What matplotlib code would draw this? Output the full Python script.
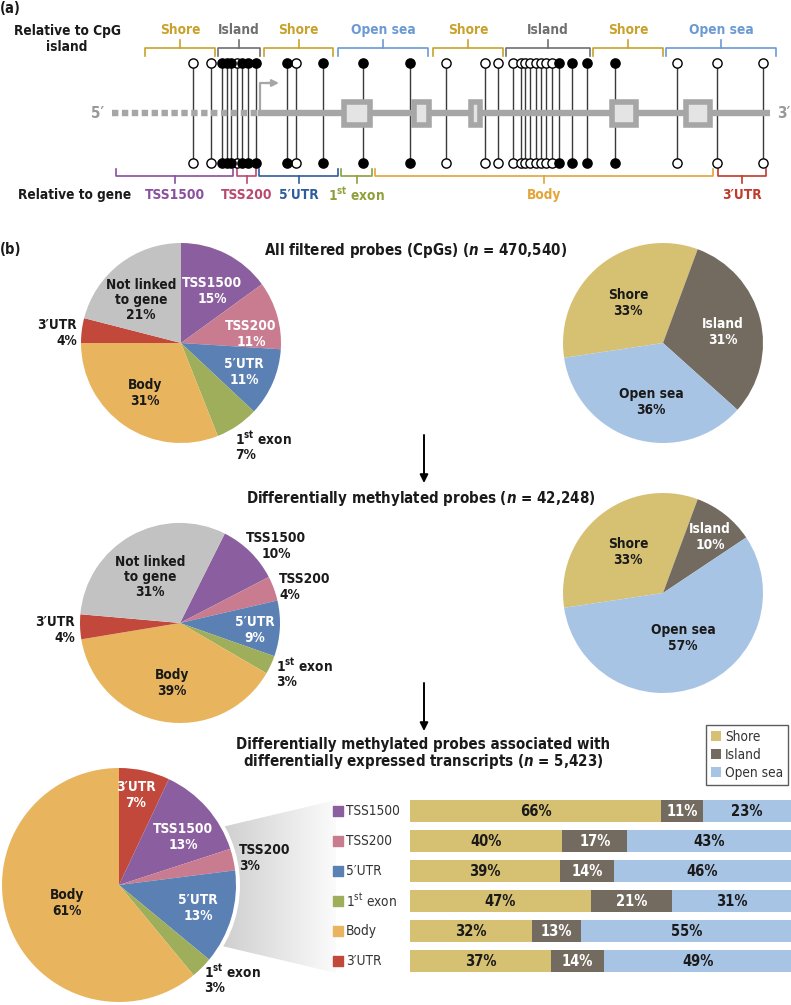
import matplotlib
matplotlib.use("Agg")
import matplotlib.pyplot as plt
import matplotlib.transforms as mtransforms
from matplotlib import font_manager
from matplotlib.patches import Rectangle, Polygon, Circle
import numpy as np

# pick a condensed sans if one is installed
fonts = font_manager.fontManager.ttflist
names = {f.name for f in fonts}
STRETCH = "normal"
if "Liberation Sans Narrow" in names:
    BASE = "Liberation Sans Narrow"
elif any(f.name == "DejaVu Sans" and f.stretch == "condensed" for f in fonts):
    BASE = "DejaVu Sans"
    STRETCH = "condensed"
elif "Roboto Condensed" in names:
    BASE = "Roboto Condensed"
else:
    BASE = "Liberation Sans"
SCALE = 1.0 if (BASE != "Liberation Sans") else 0.9

FONT = [BASE, "DejaVu Sans"]
plt.rcParams['font.family'] = FONT
plt.rcParams['font.weight'] = 'bold'
plt.rcParams['font.stretch'] = STRETCH
plt.rcParams['mathtext.fontset'] = 'custom'
plt.rcParams['mathtext.rm'] = f'{BASE}:weight=bold:stretch={STRETCH}'
plt.rcParams['mathtext.it'] = f'{BASE}:style=italic:weight=bold:stretch={STRETCH}'
plt.rcParams['mathtext.sf'] = f'{BASE}:weight=normal:stretch={STRETCH}'

W, H = 791, 1005
def Y(py):
    return H - py

# ---------------- data ----------------
first_exon = "1$^{\\mathrm{st}}$ exon"
gene_names = ["TSS1500", "TSS200", "5′UTR", first_exon, "Body", "3′UTR", "Not linked to gene"]
gene_colors = ["#8b5f9f", "#c97b90", "#5b80b4", "#9fae5b", "#e8b55e", "#c1483b", "#c2c2c2"]
all_gene = [15, 11, 11, 7, 31, 4, 21]
dm_gene = [10, 4, 9, 3, 39, 4, 31]

# last pie is ordered from 3'UTR clockwise
dmde_names = ["3′UTR", "TSS1500", "TSS200", "5′UTR", first_exon, "Body"]
dmde_colors = ["#c1483b", "#8b5f9f", "#c97b90", "#5b80b4", "#9fae5b", "#e8b55e"]
dmde_gene = [7, 13, 3, 13, 3, 61]

cpg_names = ["Shore", "Island", "Open sea"]
cpg_colors = ["#d6c172", "#746b60", "#a8c4e5"]
all_cpg = [33, 31, 36]
dm_cpg = [33, 10, 57]

bar_rows = ["TSS1500", "TSS200", "5′UTR", "1$^{\\mathsf{st}}$ exon", "Body", "3′UTR"]
bar_row_colors = ["#8b5f9f", "#c97b90", "#5b80b4", "#9fae5b", "#e8b55e", "#c1483b"]
bar_shore = [66, 40, 39, 47, 32, 37]
bar_island = [11, 17, 14, 21, 13, 14]
bar_opensea = [23, 43, 46, 31, 55, 49]

# schematic in panel (a)
probe_x = [193, 211, 222, 227, 231, 237, 242, 248, 256, 287, 296, 323, 363, 410,
           446, 485, 498, 513, 521, 525, 530, 536, 541, 546, 552, 559, 572, 587,
           615, 677, 717, 763]
probe_filled = [0, 0, 1, 1, 1, 0, 1, 1, 1, 1, 0, 1, 1, 1,
                0, 0, 0, 0, 0, 0, 0, 0, 0, 0, 0, 1, 1, 1,
                1, 0, 0, 0]
exon_x0 = [341, 411, 468, 609, 683]
exon_x1 = [373, 432, 483, 639, 713]
cpg_regions = [("Shore", 145, 215), ("Island", 218, 260), ("Shore", 264, 333),
               ("Open sea", 338, 428), ("Shore", 433, 503), ("Island", 506, 590),
               ("Shore", 593, 663), ("Open sea", 666, 776)]
cpg_region_colors = {"Shore": "#c9a22c", "Island": "#6f6f6f", "Open sea": "#6b9bd2"}
gene_regions = [("TSS1500", 116, 233), ("TSS200", 237, 256), ("5′UTR", 259, 338),
                (first_exon, 341, 372), ("Body", 375, 713), ("3′UTR", 718, 766)]
gene_region_colors = ["#8a4f9e", "#b84a6e", "#2f5d9c", "#8ea03c", "#e3a43a", "#c0392b"]

# ---------------- figure ----------------
fig = plt.figure(figsize=(7.91, 10.05), dpi=100)
ax = fig.add_axes([0, 0, 1, 1])
TXT = "#1a1a1a"
FS = 9.8 * SCALE

# panel (a)
ax.text(0, Y(8), "(a)", fontsize=10.5 * SCALE, ha="left", va="center", color=TXT)
ax.text(67, Y(39), "Relative to CpG\nisland", fontsize=FS, ha="center", va="center",
        color=TXT, linespacing=1.2)
ax.text(18, Y(195), "Relative to gene", fontsize=FS, ha="left", va="center", color=TXT)

for name, x0, x1 in cpg_regions:
    c = cpg_region_colors[name]
    ax.plot([x0, x0, x1, x1], [Y(56), Y(48), Y(48), Y(56)], color=c, lw=1.2)
    ax.plot([(x0 + x1) / 2] * 2, [Y(48), Y(40)], color=c, lw=1.2)
    ax.text((x0 + x1) / 2, Y(30), name, color=c, fontsize=FS, ha="center", va="center")

for (name, x0, x1), c in zip(gene_regions, gene_region_colors):
    ax.plot([x0, x0, x1, x1], [Y(169), Y(176), Y(176), Y(169)], color=c, lw=1.2)
    ax.plot([(x0 + x1) / 2] * 2, [Y(176), Y(183)], color=c, lw=1.2)
    ax.text((x0 + x1) / 2, Y(195), name, color=c, fontsize=FS, ha="center", va="center")

# stems
for x in probe_x:
    ax.plot([x, x], [Y(63), Y(163)], color="#3a3a3a", lw=1.0, zorder=2)

# gene line
ax.plot([112, 258], [Y(113), Y(113)], color="#a6a6a6", lw=4.6,
        linestyle=(0, (1.0, 0.55)), solid_capstyle="butt", zorder=3)
ax.plot([258, 770], [Y(113), Y(113)], color="#a6a6a6", lw=4.6,
        solid_capstyle="butt", zorder=3)
ax.text(98, Y(113), "5′", color="#999999", fontsize=11 * SCALE, ha="center", va="center")
ax.text(790, Y(113), "3′", color="#999999", fontsize=11 * SCALE, ha="right", va="center")
ax.plot([260, 260, 268], [Y(113), Y(83), Y(83)], color="#a6a6a6", lw=1.6, zorder=3)
ax.annotate("", xy=(279, Y(83)), xytext=(266, Y(83)),
            arrowprops=dict(arrowstyle="-|>", color="#a6a6a6", lw=1.6,
                            mutation_scale=10, shrinkA=0, shrinkB=0), zorder=3)

for x0, x1 in zip(exon_x0, exon_x1):
    ax.add_patch(Rectangle((x0 + 2.8, Y(128) + 2.8), x1 - x0 - 5.6, 29 - 5.6,
                           facecolor="#e4e4e4", edgecolor="#a6a6a6", lw=4.0, zorder=4))

px = np.array(probe_x)
pf = np.array(probe_filled, dtype=bool)
for yy in (63, 163):
    ax.scatter(px[~pf], [Y(yy)] * (~pf).sum(), s=44, facecolor="white",
               edgecolor="black", lw=1.0, zorder=5)
    ax.scatter(px[pf], [Y(yy)] * pf.sum(), s=44, facecolor="black",
               edgecolor="black", lw=1.0, zorder=5)

# panel (b)
TS = 10.8 * SCALE
ax.text(0, Y(249), "(b)", fontsize=10.5 * SCALE, ha="left", va="center", color=TXT)
ax.text(416, Y(250), "All filtered probes (CpGs) ($n$ = 470,540)", fontsize=TS,
        ha="center", va="center", color=TXT)
ax.text(421, Y(498), "Differentially methylated probes ($n$ = 42,248)", fontsize=TS,
        ha="center", va="center", color=TXT)
ax.text(423, Y(754), "Differentially methylated probes associated with\n"
        "differentially expressed transcripts ($n$ = 5,423)", fontsize=TS,
        ha="center", va="center", color=TXT, linespacing=1.05)

for y0, y1 in ((435, 483), (683, 731)):
    ax.annotate("", xy=(424, Y(y1)), xytext=(424, Y(y0)),
                arrowprops=dict(arrowstyle="-|>", color="black", lw=1.4,
                                mutation_scale=12, shrinkA=0, shrinkB=0))

wp = dict(linewidth=0, zorder=3)
# pie 1 gene
ax.pie(all_gene, colors=gene_colors, center=(181, Y(343)), radius=100,
       startangle=90, counterclock=False, frame=True, wedgeprops=wp)
# pie 1 cpg
ax.pie(all_cpg, colors=cpg_colors, center=(663, Y(343)), radius=100,
       startangle=188.5, counterclock=False, frame=True, wedgeprops=wp)
# pie 2 gene
ax.pie(dm_gene, colors=gene_colors, center=(180, Y(623)), radius=100,
       startangle=63.4, counterclock=False, frame=True, wedgeprops=wp,
       explode=[0, 0, 0, 0, 0, 0, 0.08])
# pie 2 cpg
ax.pie(dm_cpg, colors=cpg_colors, center=(663, Y(593)), radius=100,
       startangle=188.5, counterclock=False, frame=True, wedgeprops=wp)

# funnel behind pie 3
funnel = Polygon([(222, Y(827)), (336, Y(800)), (336, Y(973)), (222, Y(946))],
                 closed=True, facecolor="none", edgecolor="none")
ax.add_patch(funnel)
grad = np.linspace(0, 1, 256).reshape(1, -1)
cm = matplotlib.colors.LinearSegmentedColormap.from_list("f", ["#cfcfcf", "#fbfbfb"])
im = ax.imshow(grad, cmap=cm, extent=[222, 336, Y(973), Y(800)], aspect="auto", zorder=1)
im.set_clip_path(funnel)
ax.add_patch(Circle((119, Y(885)), 121, facecolor="white", edgecolor="none", zorder=2))
ax.pie(dmde_gene, colors=dmde_colors, center=(119, Y(885)), radius=117,
       startangle=90, counterclock=False, frame=True, wedgeprops=wp)

def lab(x, y, s, color=TXT, ha="center", fs=FS):
    ax.text(x, Y(y), s, color=color, fontsize=fs, ha=ha, va="center",
            linespacing=1.1, multialignment=ha, zorder=6)

# pie 1 labels
lab(212, 291, "TSS1500\n15%", "white")
lab(251, 334, "TSS200\n11%", "white")
lab(244, 372, "5′UTR\n11%", "white")
lab(145, 393, "Body\n31%")
lab(141, 300, "Not linked\nto gene\n21%")
lab(77, 333, "3′UTR\n4%", ha="right")
lab(235, 446, first_exon + "\n7%", ha="left")
lab(628, 303, "Shore\n33%")
lab(723, 332, "Island\n31%", "white")
lab(651, 402, "Open sea\n36%")
# pie 2 labels
lab(150, 577, "Not linked\nto gene\n31%")
lab(276, 546, "TSS1500\n10%")
lab(279, 587, "TSS200\n4%", ha="left")
lab(255, 630, "5′UTR\n9%", "white")
lab(276, 673, first_exon + "\n3%", ha="left")
lab(172, 683, "Body\n39%")
lab(75, 630, "3′UTR\n4%", ha="right")
lab(628, 552, "Shore\n33%")
lab(710, 537, "Island\n10%", "white")
lab(683, 638, "Open sea\n57%")
# pie 3 labels
lab(136, 795, "3′UTR\n7%", "white")
lab(183, 837, "TSS1500\n13%", "white")
lab(239, 858, "TSS200\n3%", ha="left")
lab(198, 908, "5′UTR\n13%", "white")
lab(204, 979, first_exon + "\n3%", ha="left")
lab(67, 903, "Body\n61%")

# ---------------- stacked bars ----------------
axb = fig.add_axes([410 / W, (H - 976) / H, 381 / W, 180 / H])
rows = np.arange(len(bar_rows))
totals = np.array(bar_shore) + np.array(bar_island) + np.array(bar_opensea)
left = np.zeros(len(bar_rows))
bars = []
for vals, c, name, tc in zip([bar_shore, bar_island, bar_opensea], cpg_colors,
                             cpg_names, [TXT, "white", TXT]):
    vals = np.array(vals, dtype=float)
    w = vals * 100.0 / totals
    b = axb.barh(rows, w, left=left, height=22 / 30, color=c, label=name)
    bars.append(b)
    for i, v in enumerate(vals):
        axb.text(left[i] + w[i] / 2, i, f"{int(v)}%", ha="center", va="center",
                 color=tc, fontsize=10.5 * SCALE)
    left += w
axb.set_xlim(0, 100)
axb.set_ylim(len(bar_rows) - 0.5, -0.5)
axb.axis("off")

blend = mtransforms.blended_transform_factory(ax.transData, axb.transData)
axb.scatter([338] * len(rows), rows, marker="s", s=52, color=bar_row_colors,
            transform=blend, clip_on=False)
for i, name in enumerate(bar_rows):
    axb.text(346, i, name, transform=blend, ha="left", va="center",
             fontsize=FS, fontweight="normal", color="#333333", clip_on=False)

leg = fig.legend(handles=bars, labels=cpg_names, loc="upper right",
                 bbox_to_anchor=(788 / W, 1 - 725 / H), frameon=True, fancybox=False,
                 edgecolor="#333333",
                 prop=dict(family=FONT, weight="normal", stretch=STRETCH, size=9.8 * SCALE),
                 handlelength=0.75, handleheight=0.75, handletextpad=0.3,
                 labelspacing=0.3, borderpad=0.35, borderaxespad=0)
leg.get_frame().set_linewidth(1.0)
for t in leg.get_texts():
    t.set_color("#333333")

ax.set_xlim(0, W)
ax.set_ylim(0, H)
ax.set_aspect("auto")
ax.axis("off")

fig.savefig("out.png", dpi=100)
